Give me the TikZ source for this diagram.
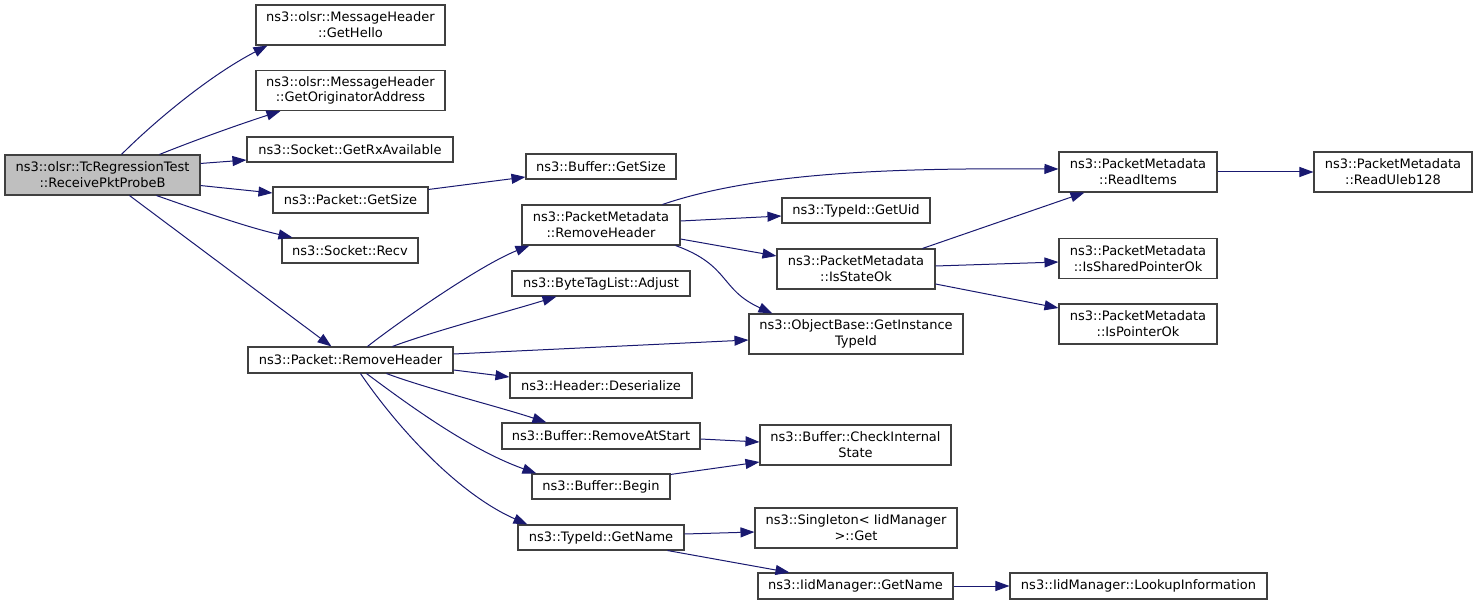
\documentclass[tikz,border=0pt]{standalone}
\usepackage{fontspec}
\setmainfont{DejaVu Sans}
\usetikzlibrary{arrows.meta,calc}
\definecolor{edgec}{HTML}{191970}
\definecolor{boxc}{HTML}{404040}
\definecolor{rootc}{HTML}{BFBFBF}
\tikzset{
  box/.style={draw=boxc, line width=0.8pt, fill=white, inner sep=0pt, align=center,
    font=\fontsize{9.75}{11.8}\selectfont},
  wh/.style 2 args={minimum width=#1*0.75pt, minimum height=#2*0.75pt},
  edge/.style={draw=edgec, line width=0.75pt, -{Triangle[length=10.5pt,width=7.5pt,fill=edgec]}}
}
\begin{document}
\begin{tikzpicture}[x=0.75pt,y=-0.75pt]
\useasboundingbox (0,0) rectangle (1477,605);
% nodes
\node[box,wh={195}{40},fill=rootc] (root) at (102.5,175) {ns3::olsr::TcRegressionTest\\::ReceivePktProbeB};
\node[box,wh={189}{40}] (hello) at (350.5,25) {ns3::olsr::MessageHeader\\::GetHello};
\node[box,wh={189}{40}] (orig) at (350.5,90.5) {ns3::olsr::MessageHeader\\::GetOriginatorAddress};
\node[box,wh={206}{25}] (rxav) at (350,149.5) {ns3::Socket::GetRxAvailable};
\node[box,wh={155}{26}] (pgetsize) at (350.5,200) {ns3::Packet::GetSize};
\node[box,wh={136}{25}] (recv) at (350,250.5) {ns3::Socket::Recv};
\node[box,wh={205}{26}] (prem) at (350.5,360) {ns3::Packet::RemoveHeader};
\node[box,wh={150}{25}] (bgetsize) at (601,166.5) {ns3::Buffer::GetSize};
\node[box,wh={158}{40}] (pmrem) at (601,225) {ns3::PacketMetadata\\::RemoveHeader};
\node[box,wh={178}{25}] (adjust) at (601,283.5) {ns3::ByteTagList::Adjust};
\node[box,wh={182}{25}] (deser) at (601,385.5) {ns3::Header::Deserialize};
\node[box,wh={198}{26}] (ras) at (601,436) {ns3::Buffer::RemoveAtStart};
\node[box,wh={138}{25}] (begin) at (601,486.5) {ns3::Buffer::Begin};
\node[box,wh={166}{25}] (tgname) at (601,537.5) {ns3::TypeId::GetName};
\node[box,wh={148}{25}] (getuid) at (856,210.5) {ns3::TypeId::GetUid};
\node[box,wh={158}{40}] (isstate) at (856,269) {ns3::PacketMetadata\\::IsStateOk};
\node[box,wh={214}{40}] (objbase) at (856,334) {ns3::ObjectBase::GetInstance\\TypeId};
\node[box,wh={191}{40}] (check) at (855.5,445) {ns3::Buffer::CheckInternal\\State};
\node[box,wh={202}{40}] (single) at (856,528) {ns3::Singleton< IidManager\\>::Get};
\node[box,wh={195}{26}] (iidname) at (855.5,586) {ns3::IidManager::GetName};
\node[box,wh={158}{40}] (readitems) at (1138,172) {ns3::PacketMetadata\\::ReadItems};
\node[box,wh={158}{40}] (uleb) at (1393,172) {ns3::PacketMetadata\\::ReadUleb128};
\node[box,wh={158}{40}] (shared) at (1138,258.5) {ns3::PacketMetadata\\::IsSharedPointerOk};
\node[box,wh={158}{40}] (ispointer) at (1138,324) {ns3::PacketMetadata\\::IsPointerOk};
\node[box,wh={257}{26}] (lookup) at (1138.5,586) {ns3::IidManager::LookupInformation};
% edges from root
\draw[edge] ($(root.north west)+(117,0)$) .. controls +(33,-33) and +(-58,30) .. ($(hello.south west)+(12,0)$);
\draw[edge] ($(root.north west)+(155,0)$) .. controls +(40,-16) and +(-40,13) .. ($(orig.south west)+(25,0)$);
\draw[edge] ($(root.north east)+(0,9)$) -- ($(rxav.west)+(0,10.5)$);
\draw[edge] ($(root.south east)+(0,-10)$) -- ($(pgetsize.west)+(0,-7)$);
\draw[edge] ($(root.south west)+(152,0)$) .. controls +(40,14) and +(-45,-10) .. ($(recv.north west)+(11,0)$);
\draw[edge] ($(root.south west)+(125,0)$) -- ($(prem.north west)+(84,0)$);
% Packet::GetSize
\draw[edge] ($(pgetsize.north east)+(0,3)$) -- ($(bgetsize.west)+(0,10.5)$);
% Packet::RemoveHeader
\draw[edge] ($(prem.north west)+(120,0)$) .. controls +(32,-25) and +(-50,20) .. ($(pmrem.south west)+(8,0)$);
\draw[edge] ($(prem.north west)+(145,0)$) .. controls +(40,-15) and +(-45,14) .. ($(adjust.south west)+(45,0)$);
\draw[edge] ($(prem.east)+(0,-6)$) -- ($(objbase.west)+(0,6)$);
\draw[edge] ($(prem.east)+(0,10)$) -- ($(deser.west)+(0,-8.5)$);
\draw[edge] ($(prem.south west)+(139,0)$) .. controls +(40,15) and +(-45,-15) .. ($(ras.north west)+(45,0)$);
\draw[edge] ($(prem.south west)+(119,0)$) .. controls +(43,32) and +(-67,-24) .. ($(begin.north west)+(5,0)$);
\draw[edge] ($(prem.south west)+(113,0)$) .. controls +(39,57) and +(-68,-30) .. ($(tgname.north west)+(10,0)$);
% PacketMetadata::RemoveHeader
\draw[edge] ($(pmrem.north west)+(141,0)$) .. controls +(97,-33) and +(-159,-1) .. ($(readitems.west)+(0,-3)$);
\draw[edge] ($(pmrem.east)+(0,-4)$) -- ($(getuid.west)+(0,5.5)$);
\draw[edge] ($(pmrem.east)+(0,14)$) -- ($(isstate.west)+(0,-13)$);
\draw[edge] ($(pmrem.south east)+(-5,0)$) .. controls +(55,20) and +(-53,-24) .. ($(objbase.north west)+(24,0)$);
% IsStateOk
\draw[edge] ($(isstate.north west)+(146,0)$) -- ($(readitems.south west)+(26,0)$);
\draw[edge] ($(isstate.east)+(0,-3)$) -- ($(shared.west)+(0,3.5)$);
\draw[edge] ($(isstate.east)+(0,15)$) -- ($(ispointer.west)+(0,-16)$);
% ReadItems
\draw[edge] (readitems.east) -- (uleb.west);
% Buffer
\draw[edge] ($(ras.east)+(0,3)$) -- ($(check.west)+(0,-3)$);
\draw[edge] ($(begin.north east)+(0,1)$) -- ($(check.west)+(0,17)$);
% TypeId::GetName
\draw[edge] ($(tgname.east)+(0,-3.5)$) -- ($(single.west)+(0,4)$);
\draw[edge] ($(tgname.south east)+(-17,0)$) -- ($(iidname.north west)+(32,0)$);
\draw[edge] (iidname.east) -- (lookup.west);
\end{tikzpicture}
\end{document}
